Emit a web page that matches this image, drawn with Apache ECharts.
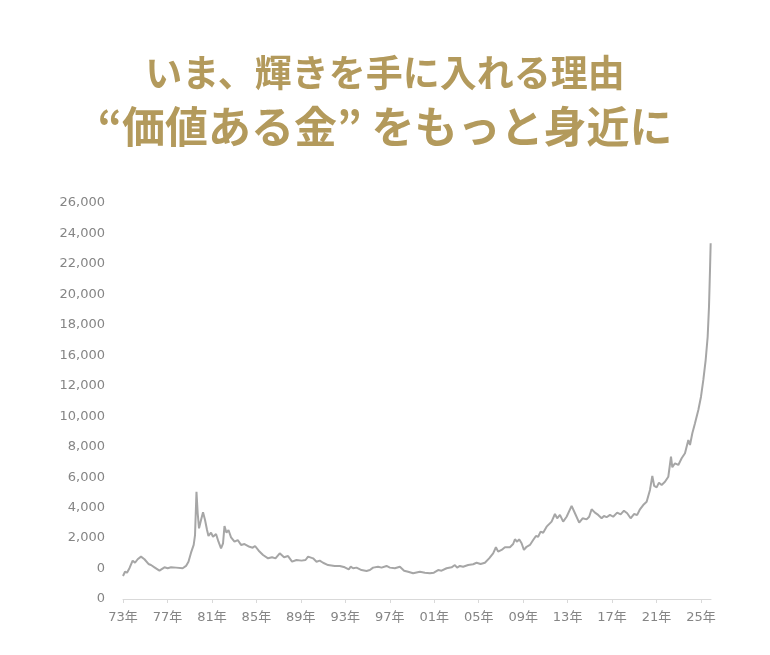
<!DOCTYPE html>
<html>
<head>
<meta charset="utf-8">
<title>金価格の推移</title>
<script src="https://cdn.jsdelivr.net/npm/echarts@6/dist/echarts.min.js"></script>
<style>
  html, body { margin: 0; padding: 0; background: #ffffff; }
  #chart { width: 770px; height: 655px; }
</style>
</head>
<body>
<div id="chart"></div>
<script>
// 見出し
const titleLine1 = 'いま、輝きを手に入れる理由';
const titleLine2 = '“価値ある金” をもっと身近に';

// 横軸（年）の目盛り
const xTickYears = [1973, 1977, 1981, 1985, 1989, 1993, 1997, 2001, 2005, 2009, 2013, 2017, 2021, 2025];

// 縦軸の表示ラベル（下から順、元画像のまま）
const yTickLabels = ['0', '0', '2,000', '4,000', '6,000', '8,000', '10,000', '12,000',
  '16,000', '18,000', '20,000', '22,000', '24,000', '26,000'];

// 価格推移（年, 値）
const years = [
  1973.00, 1973.18, 1973.36, 1973.58, 1973.87, 1974.08, 1974.32, 1974.62, 1974.93, 1975.29,
  1975.52, 1975.83, 1976.28, 1976.73, 1977.02, 1977.32, 1977.77, 1978.37, 1978.67, 1978.89,
  1979.12, 1979.36, 1979.48, 1979.61, 1979.72, 1979.84, 1980.02, 1980.20, 1980.38, 1980.56,
  1980.69, 1980.92, 1981.10, 1981.37, 1981.59, 1981.82, 1982.00, 1982.13, 1982.31, 1982.49,
  1982.72, 1983.03, 1983.32, 1983.62, 1983.93, 1984.38, 1984.67, 1984.88,
  1985.21, 1985.60, 1986.05, 1986.41, 1986.72, 1987.10, 1987.49, 1987.85, 1988.21, 1988.61,
  1989.06, 1989.42, 1989.65, 1990.10, 1990.41, 1990.70, 1991.00, 1991.45, 1992.05, 1992.50,
  1992.95, 1993.31, 1993.49, 1993.70, 1994.01, 1994.46, 1994.91, 1995.21, 1995.50, 1995.95,
  1996.26, 1996.71, 1997.01, 1997.46, 1997.91, 1998.29, 1998.65, 1999.10,
  1999.26, 1999.71, 2000.16, 2000.61, 2000.97, 2001.35, 2001.66, 2002.11, 2002.56, 2002.86,
  2003.06, 2003.31, 2003.60, 2004.05, 2004.50, 2004.81, 2005.17, 2005.56, 2005.94, 2006.30,
  2006.55, 2006.75, 2007.06, 2007.36, 2007.81, 2008.10, 2008.26, 2008.46, 2008.64, 2008.86,
  2009.07, 2009.31, 2009.61, 2009.90, 2010.15, 2010.35, 2010.57, 2010.80,
  2011.11, 2011.56, 2011.86, 2012.06, 2012.31, 2012.60, 2012.91, 2013.36, 2013.66, 2014.04,
  2014.35, 2014.71, 2014.94, 2015.16, 2015.46, 2015.75, 2016.06, 2016.27, 2016.51, 2016.81,
  2017.10, 2017.46, 2017.77, 2018.07, 2018.36, 2018.67, 2018.97, 2019.26, 2019.51, 2019.80,
  2020.11, 2020.41, 2020.62, 2020.79, 2021.01, 2021.22, 2021.46, 2021.76, 2022.06, 2022.30,
  2022.42, 2022.66, 2022.96, 2023.26, 2023.56, 2023.86, 2024.01, 2024.22, 2024.46, 2024.76,
  2025.00, 2025.21, 2025.42, 2025.60, 2025.72, 2025.81, 2025.87
];
const prices = [
  1510, 1790, 1730, 2020, 2520, 2380, 2610, 2780, 2610, 2300,
  2230, 2080, 1860, 2080, 2020, 2080, 2060, 2020, 2170, 2450,
  3040, 3550, 4200, 7040, 5630, 4640, 5190, 5690, 5190, 4530,
  4140, 4350, 4090, 4270, 3760, 3330, 3660, 4790, 4350, 4530,
  4050, 3760, 3870, 3550, 3610, 3430, 3370, 3480,
  3170, 2890, 2670, 2740, 2670, 3000, 2740, 2820, 2450, 2560,
  2520, 2560, 2780, 2670, 2450, 2520, 2380, 2230, 2170, 2170,
  2080, 1950, 2120, 2020, 2060, 1900, 1840, 1900, 2060, 2120,
  2060, 2170, 2060, 2020, 2120, 1860, 1790, 1690,
  1750, 1790, 1730, 1690, 1730, 1900, 1860, 2020, 2080, 2230,
  2060, 2170, 2120, 2230, 2280, 2380, 2300, 2380, 2670, 3000,
  3400, 3110, 3220, 3400, 3400, 3610, 3920, 3760, 3920, 3660,
  3220, 3430, 3550, 3870, 4140, 4090, 4420, 4350,
  4750, 5080, 5580, 5300, 5520, 5080, 5400, 6110, 5630, 5010,
  5300, 5230, 5400, 5890, 5670, 5520, 5300, 5450, 5370, 5520,
  5400, 5670, 5560, 5800, 5630, 5300, 5580, 5520, 5890, 6170,
  6390, 7160, 8080, 7420, 7330, 7640, 7490, 7700, 8030, 9340,
  8650, 8910, 8800, 9240, 9570, 10440, 10110, 10880, 11540, 12410,
  13280, 14380, 15690, 17220, 19190, 21600, 23360
];

const chart = echarts.init(document.getElementById('chart'));

const gold = '#b39a5c';
const labelColor = '#858585';
const titleFont = '"Noto Sans CJK JP", sans-serif';
const axisFont = '"DejaVu Sans", "Noto Sans CJK JP", sans-serif';

const option = {
  backgroundColor: '#ffffff',
  animation: false,
  graphic: [
    {
      type: 'text',
      left: 'center',
      top: 54,
      style: {
        text: titleLine1,
        fill: gold,
        font: 'bold 37px ' + titleFont
      }
    },
    {
      type: 'text',
      left: 'center',
      top: 105,
      style: {
        text: titleLine2,
        fill: gold,
        font: 'bold 43px ' + titleFont
      }
    }
  ],
  grid: {
    left: 123,
    right: 59,
    top: 203,
    bottom: 56
  },
  xAxis: {
    type: 'value',
    min: 1973,
    max: 2025.9,
    splitLine: { show: false },
    axisLine: {
      lineStyle: { color: '#d9d9d9', width: 1 }
    },
    axisTick: {
      show: true,
      length: 4,
      customValues: xTickYears,
      lineStyle: { color: '#d9d9d9' }
    },
    axisLabel: {
      customValues: xTickYears,
      margin: 12,
      color: labelColor,
      fontSize: 13,
      fontFamily: axisFont,
      formatter: (v) => String(Math.round(v) % 100).padStart(2, '0') + '年'
    }
  },
  yAxis: {
    type: 'value',
    min: 0,
    max: 26000,
    interval: 2000,
    splitLine: { show: false },
    axisLine: { show: false },
    axisTick: { show: false },
    axisLabel: {
      margin: 18,
      color: labelColor,
      fontSize: 13,
      fontFamily: axisFont,
      formatter: (v) => yTickLabels[Math.round(v / 2000)] || ''
    }
  },
  series: [
    {
      type: 'line',
      data: years.map((y, i) => [y, prices[i]]),
      showSymbol: false,
      smooth: false,
      lineStyle: { color: '#a6a6a6', width: 2 },
      itemStyle: { color: '#a6a6a6' }
    }
  ]
};

chart.setOption(option);
</script>
</body>
</html>
